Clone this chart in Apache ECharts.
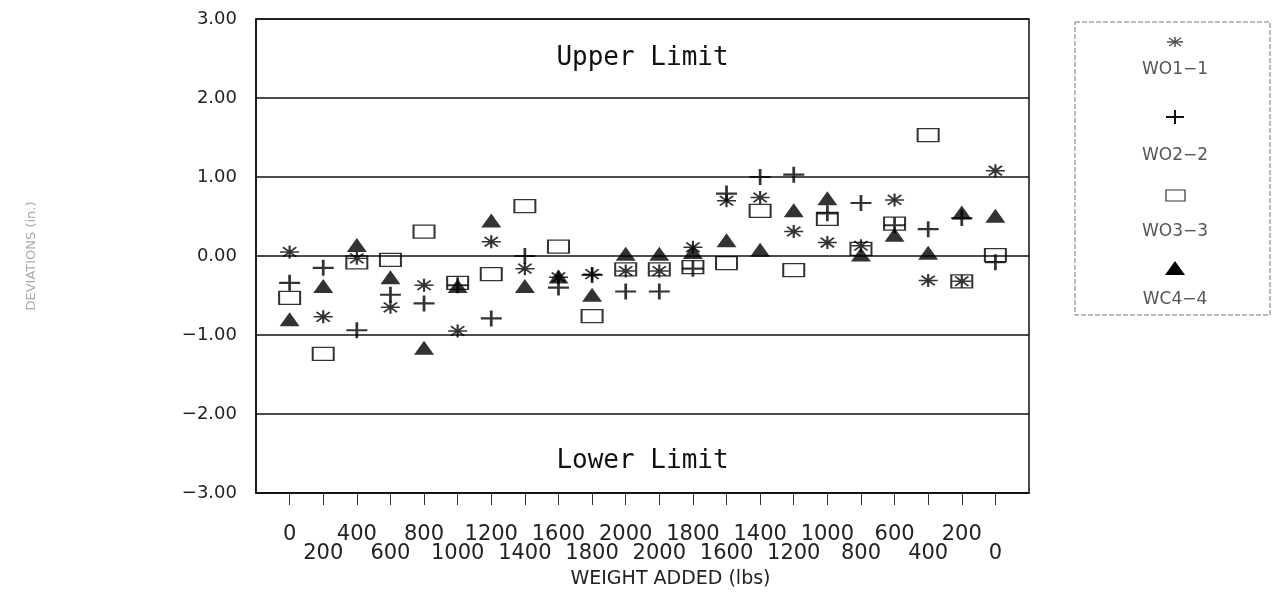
<!DOCTYPE html>
<html>
<head>
<meta charset="utf-8">
<script src="https://cdn.jsdelivr.net/npm/echarts@6/dist/echarts.min.js"></script>
<style>
  html, body { margin: 0; padding: 0; background: #fff; }
  #chart { width: 1277px; height: 603px; }
</style>
</head>
<body>
<div id="chart"></div>
<script>
// Weight steps: loading up to 2000 lbs, then unloading back to 0
const weights = ['0', '200', '400', '600', '800', '1000', '1200', '1400', '1600', '1800', '2000',
                 '2000', '1800', '1600', '1400', '1200', '1000', '800', '600', '400', '200', '0'];

const seriesNames = ['WO1\u22121', 'WO2\u22122', 'WO3\u22123', 'WC4\u22124'];

// Deviations (in.) per gauge at each step
const wo1 = [0.05, -0.77, -0.03, -0.65, -0.37, -0.95, 0.18, -0.16, -0.27, -0.23, -0.19,
             -0.19, 0.11, 0.70, 0.74, 0.31, 0.17, 0.13, 0.71, -0.31, -0.32, 1.08];
const wo2 = [-0.34, -0.15, -0.94, -0.49, -0.60, -0.37, -0.79, 0.00, -0.40, -0.24, -0.45,
             -0.45, -0.16, 0.79, 1.00, 1.03, 0.54, 0.67, 0.39, 0.34, 0.48, -0.08];
const wo3 = [-0.53, -1.24, -0.08, -0.05, 0.31, -0.34, -0.23, 0.63, 0.12, -0.76, -0.17,
             -0.17, -0.14, -0.09, 0.57, -0.18, 0.47, 0.09, 0.41, 1.53, -0.32, 0.01];
const wo4 = [-0.80, -0.38, 0.14, -0.27, -1.16, -0.38, 0.45, -0.38, -0.26, -0.49, 0.03,
             0.03, 0.05, 0.20, 0.08, 0.58, 0.73, 0.02, 0.27, 0.04, 0.55, 0.51];

const limitLabels = ['Upper Limit', 'Lower Limit'];

// Empty slots at both ends keep the first and last step one step in from the frame
const categories = [''].concat(weights, ['']);
const toPoints = arr => arr.map((v, i) => [i + 1, v]);

const STAR = 'path://M0,5L10,5M5,0L5,10M1.5,1.3L8.5,8.7M8.5,1.3L1.5,8.7';
const PLUS = 'path://M0,5L10,5M5,0L5,10';

const FONT = 'DejaVu Sans';
const isStep = idx => idx > 0 && idx < categories.length - 1;

const chart = echarts.init(document.getElementById('chart'), null, { renderer: 'canvas' });

const strokeStyle = w => ({ color: 'rgba(0,0,0,0)', borderColor: '#000', borderWidth: w });

// Legend key pieces, drawn as plain graphic elements
const seg = (x1, y1, x2, y2, color, w) => ({
  type: 'line', shape: { x1, y1, x2, y2 }, style: { stroke: color, lineWidth: w }
});
const legendText = (txt, y) => ({
  type: 'text', x: 1175, y,
  style: { text: txt, fontFamily: FONT, fontSize: 17, fill: '#555', align: 'center', verticalAlign: 'middle' }
});

const option = {
  animation: false,
  backgroundColor: '#fff',
  grid: {
    left: 256, right: 248, top: 19, bottom: 110,
    show: true, borderColor: '#111', borderWidth: 1.5, backgroundColor: 'transparent'
  },
  xAxis: {
    type: 'category',
    data: categories,
    boundaryGap: false,
    name: 'WEIGHT ADDED (lbs)',
    nameLocation: 'middle',
    nameGap: 77,
    nameTextStyle: { fontFamily: FONT, fontSize: 19, color: '#222', padding: [0, 0, 0, 56] },
    axisLine: { show: true, onZero: false, lineStyle: { color: '#111', width: 1.5 } },
    axisTick: { show: true, interval: isStep, length: 12, lineStyle: { color: '#333', width: 1 } },
    axisLabel: {
      interval: isStep,
      margin: 32,
      fontFamily: FONT,
      fontSize: 21,
      lineHeight: 19,
      color: '#222',
      formatter: (val, idx) => ((idx - 1) % 2 === 0 ? val : '\n' + val)
    },
    splitLine: { show: false }
  },
  yAxis: {
    type: 'value',
    min: -3, max: 3, interval: 1,
    name: 'DEVIATIONS (in.)',
    nameLocation: 'middle',
    nameGap: 218,
    nameRotate: 90,
    nameTextStyle: { fontFamily: FONT, fontSize: 13, color: '#aaa' },
    axisLine: { show: true, lineStyle: { color: '#111', width: 1.5 } },
    axisTick: { show: false },
    axisLabel: {
      margin: 19,
      fontFamily: FONT,
      fontSize: 18,
      color: '#222',
      formatter: v => (v < 0 ? '\u2212' + Math.abs(v).toFixed(2) : v.toFixed(2))
    },
    splitLine: { show: true, lineStyle: { color: '#111', width: 1.5 } }
  },
  series: [
    {
      name: seriesNames[2], type: 'scatter', data: toPoints(wo3),
      symbol: 'rect', symbolSize: [21, 13],
      itemStyle: strokeStyle(1.6), z: 2,
      markArea: {
        silent: true,
        itemStyle: { color: 'rgba(0,0,0,0)' },
        label: {
          show: true, position: 'inside', fontFamily: 'DejaVu Sans Mono',
          fontSize: 26, color: '#111'
        },
        data: [
          [{ yAxis: 2, name: limitLabels[0] }, { yAxis: 3 }],
          [{ yAxis: -3, name: limitLabels[1], label: { offset: [0, 8] } }, { yAxis: -2 }]
        ]
      }
    },
    {
      name: seriesNames[3], type: 'scatter', data: toPoints(wo4),
      symbol: 'triangle', symbolSize: [20, 14],
      itemStyle: { color: '#000' }, z: 3
    },
    {
      name: seriesNames[0], type: 'scatter', data: toPoints(wo1),
      symbol: STAR, symbolSize: [19, 13],
      itemStyle: strokeStyle(1.8), z: 4
    },
    {
      name: seriesNames[1], type: 'scatter', data: toPoints(wo2),
      symbol: PLUS, symbolSize: [21, 16],
      itemStyle: strokeStyle(2.4), z: 5
    }
  ],
  graphic: [
    {
      type: 'rect', x: 1075, y: 22,
      shape: { width: 195, height: 293 },
      style: { fill: 'none', stroke: '#777', lineWidth: 1, lineDash: [5, 2] }
    },
    seg(1167, 42, 1183, 42, '#444', 1.4),
    seg(1175, 37, 1175, 47, '#444', 1.4),
    seg(1169, 38, 1181, 46, '#444', 1.2),
    seg(1181, 38, 1169, 46, '#444', 1.2),
    legendText(seriesNames[0], 70),
    seg(1166, 117, 1184, 117, '#111', 2),
    seg(1175, 110, 1175, 124, '#111', 2),
    legendText(seriesNames[1], 156),
    {
      type: 'rect', x: 1166, y: 190,
      shape: { width: 19, height: 11 },
      style: { fill: 'none', stroke: '#333', lineWidth: 1.2 }
    },
    legendText(seriesNames[2], 232),
    {
      type: 'polygon',
      shape: { points: [[1175, 261], [1185, 275], [1165, 275]] },
      style: { fill: '#000' }
    },
    legendText(seriesNames[3], 300)
  ]
};

chart.setOption(option);
</script>
</body>
</html>
